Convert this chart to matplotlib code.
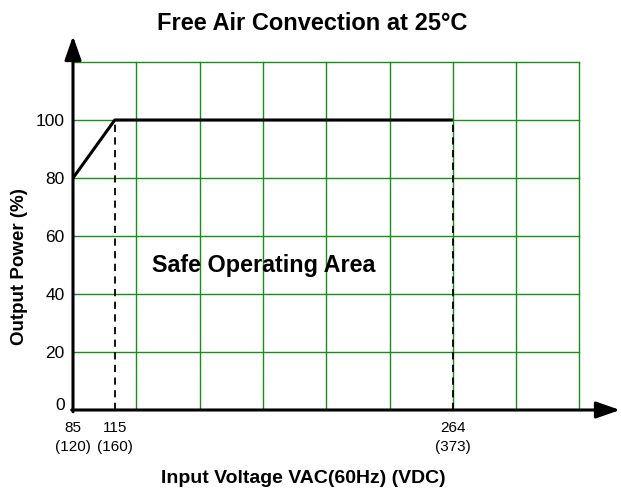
import matplotlib
matplotlib.use("Agg")
import matplotlib.pyplot as plt

plt.rcParams['font.family'] = ['Liberation Sans', 'DejaVu Sans']

# curve, in grid-column units along x (85 V sits at 0, each grid column is 1)
curve_x = [0, 0.66, 6]
curve_y = [80, 100, 100]

# x tick labels at the marked voltages
xtick_pos = [0, 0.66, 6]
xtick_labels = ["85\n(120)", "115\n(160)", "264\n(373)"]

yticks = [0, 20, 40, 60, 80, 100]
grid_cols = 8
grid_top = 120

green = "#1a8c1a"

fig = plt.figure(figsize=(6.21, 4.9), dpi=100)
W, H = 621, 490
x0, x1, y0, y1 = 73, 620, 410, 36
ax = fig.add_axes([x0 / W, 1 - y0 / H, (x1 - x0) / W, (y0 - y1) / H])
col_px = 63.3
ax.set_xlim(0, (x1 - x0) / col_px)
ax.set_ylim(0, (y0 - y1) / ((y0 - 62) / grid_top))

# green grid
for i in range(1, grid_cols + 1):
    ax.plot([i, i], [0, grid_top], color=green, lw=1.0, zorder=1)
for v in range(20, grid_top + 1, 20):
    ax.plot([0, grid_cols], [v, v], color=green, lw=1.0, zorder=1)

# derating curve and dashed markers
ax.plot(curve_x, curve_y, color="black", lw=2.2, zorder=3, solid_capstyle="butt")
for xp, yp in zip(curve_x[1:], curve_y[1:]):
    ax.plot([xp, xp], [0, yp], color="black", lw=1.3, ls=(0, (4, 3)), zorder=2)

# axes with arrows
for s in ax.spines.values():
    s.set_visible(False)
xmax = ax.get_xlim()[1]
ymax = ax.get_ylim()[1]
arrow = dict(arrowstyle="-|>,head_length=1.2,head_width=0.42", color="black",
             lw=2.2, shrinkA=0, shrinkB=0, mutation_scale=12)
ax.annotate("", xy=(xmax, 0), xytext=(-0.02, 0), arrowprops=arrow,
            annotation_clip=False, zorder=4)
ax.annotate("", xy=(0, ymax), xytext=(0, -0.6), arrowprops=arrow,
            annotation_clip=False, zorder=4)

ax.set_yticks(yticks)
ax.set_yticklabels([str(v) for v in yticks], fontsize=12.5)
ax.get_yticklabels()[0].set_verticalalignment("baseline")
ax.set_xticks(xtick_pos)
ax.set_xticklabels(xtick_labels, fontsize=11, linespacing=1.4)
ax.tick_params(axis="both", length=0)
ax.tick_params(axis="y", pad=6)
ax.tick_params(axis="x", pad=8)

ax.text(1.25, 50, "Safe Operating Area", fontsize=16.8, fontweight="bold",
        va="center", ha="left")

fig.text(312 / W, 1 - 23 / H, "Free Air Convection at 25°C", fontsize=17,
         fontweight="bold", ha="center", va="center")
fig.text(20 / W, 1 - 267 / H, "Output Power (%)", fontsize=13.5,
         fontweight="bold", rotation=90, ha="center", va="center")
fig.text(303 / W, 1 - 478 / H, "Input Voltage VAC(60Hz) (VDC)", fontsize=14,
         fontweight="bold", ha="center", va="center")

fig.savefig("out.png", dpi=100)
